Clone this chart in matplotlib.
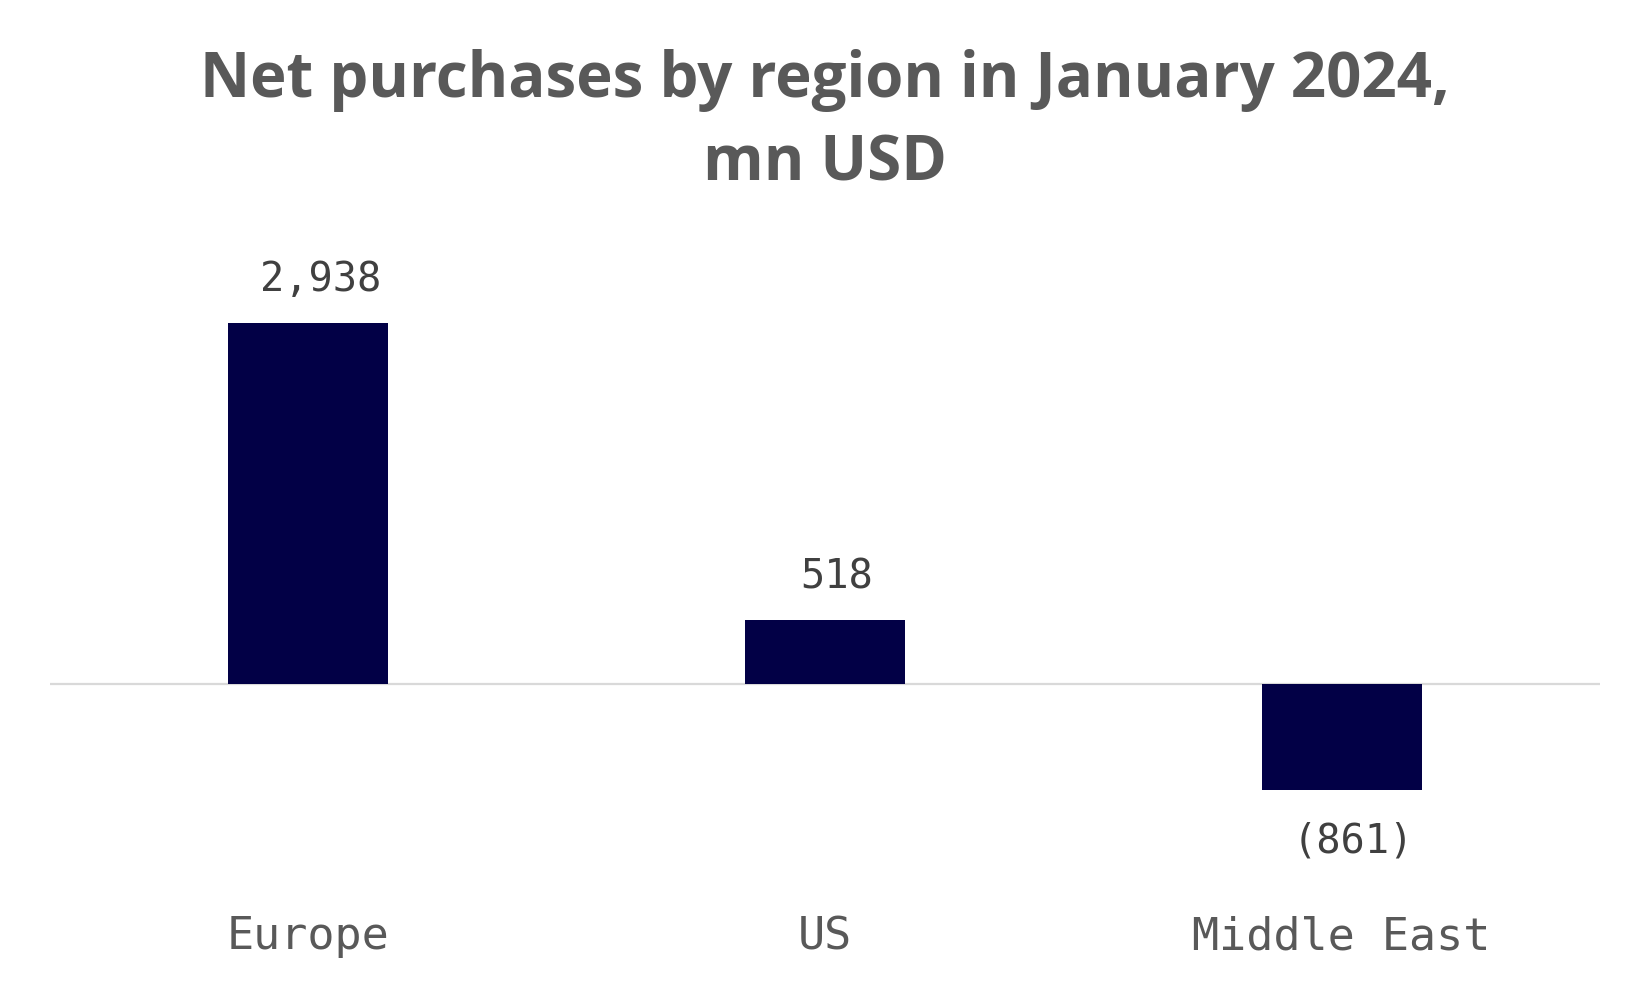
import matplotlib
matplotlib.use("Agg")
import matplotlib.pyplot as plt

# chart values
regions = ["Europe", "US", "Middle East"]
net_purchases = [2938, 518, -861]
value_labels = ["2,938", "518", "(861)"]

BAR_COLOR = "#020046"
TITLE_COLOR = "#595959"
LABEL_COLOR = "#404040"
TICK_COLOR = "#595959"

fig = plt.figure(figsize=(16.5, 9.9), dpi=100)
ax = fig.add_axes([50 / 1650, 1 - 900 / 990, 1550 / 1650, 650 / 990])

x = range(len(regions))
ax.bar(x, net_purchases, width=0.31, color=BAR_COLOR, zorder=2)
ax.axhline(0, color="#d9d9d9", linewidth=1.6, zorder=1)

ax.set_xlim(-0.5, 2.5)
ax.set_ylim(-1757, 3531)

# value labels, Excel-style slightly right of centre
for xi, val, lab in zip(x, net_purchases, value_labels):
    off = 23 if val >= 0 else -45
    ax.annotate(lab, (xi, val), xytext=(8.5, off), textcoords="offset points",
                ha="center", va="baseline", fontsize=29,
                family="DejaVu Sans Mono", color=LABEL_COLOR)

ax.set_xticks(list(x))
ax.set_xticklabels(regions, fontsize=32.5, family="DejaVu Sans Mono", color=TICK_COLOR)
ax.tick_params(axis="x", length=0, pad=11)
ax.set_yticks([])
for s in ax.spines.values():
    s.set_visible(False)

# title: baseline of the second line sits at y=180px
fig.text(0.5, 1 - 180 / 990, "Net purchases by region in January 2024,\nmn USD",
         ha="center", va="baseline", fontsize=44.5, fontweight="bold",
         family="Open Sans", color=TITLE_COLOR, linespacing=1.42,
         multialignment="center")

fig.savefig("out.png", dpi=100)
